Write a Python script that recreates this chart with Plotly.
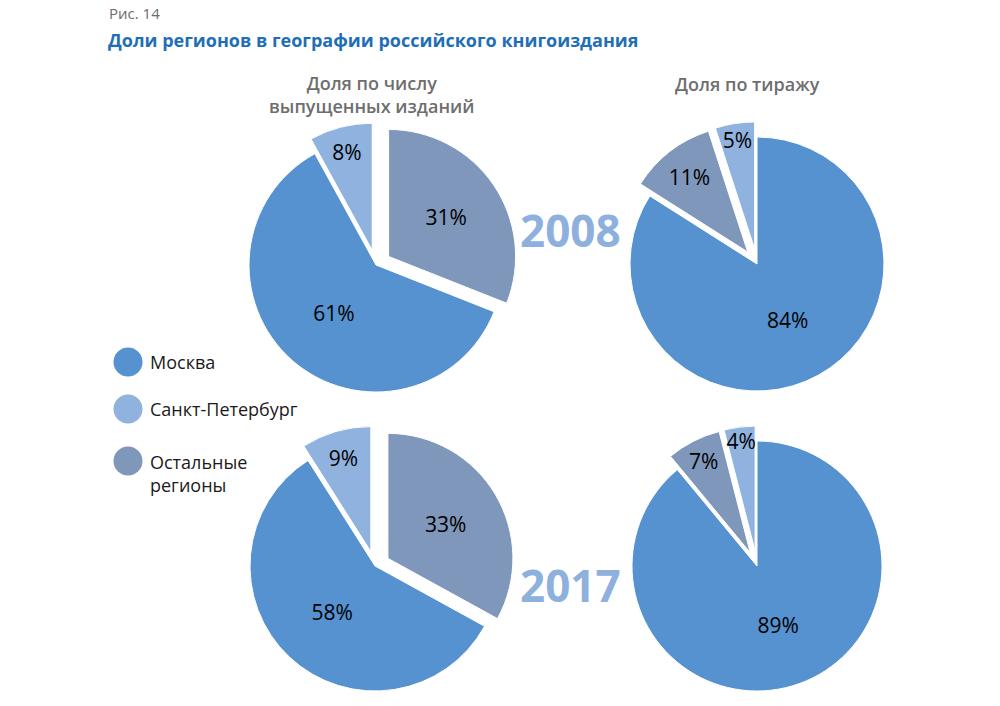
import plotly.graph_objects as go

# ---- data ----
regions = ["Москва", "Санкт-Петербург", "Остальные регионы"]
colors = {"Москва": "#5592cf", "Санкт-Петербург": "#8fb2df", "Остальные регионы": "#7e97bb"}

# order of slices clockwise from 12 o'clock, as drawn in the reference
titles_order = ["Остальные регионы", "Москва", "Санкт-Петербург"]
tirazh_order = ["Москва", "Остальные регионы", "Санкт-Петербург"]

titles_2008 = {"Москва": 61, "Санкт-Петербург": 8, "Остальные регионы": 31}
tirazh_2008 = {"Москва": 84, "Санкт-Петербург": 5, "Остальные регионы": 11}
titles_2017 = {"Москва": 58, "Санкт-Петербург": 9, "Остальные регионы": 33}
tirazh_2017 = {"Москва": 89, "Санкт-Петербург": 4, "Остальные регионы": 7}

years = ["2008", "2017"]
col_headers = ["Доля по числу<br>выпущенных изданий", "Доля по тиражу"]
fig_label = "Рис. 14"
fig_title = "Доли регионов в географии российского книгоиздания"

W, H = 1000, 706
FONT = "Open Sans"
PULL = 0.12

def dom_x(cx, half):
    return [(cx - half) / W, (cx + half) / W]

def dom_y(cy_top, cy_bottom):
    return [max(0.0, 1 - cy_bottom / H), min(1.0, 1 - cy_top / H)]

fig = go.Figure()

def add_pie(data, order, pulled, cx, cy, half_w, half_h):
    labels = order
    vals = [data[k] for k in order]
    fig.add_trace(go.Pie(
        labels=labels, values=vals,
        sort=False, direction="clockwise", rotation=0,
        pull=[PULL if k in pulled else 0 for k in order],
        marker=dict(colors=[colors[k] for k in order], line=dict(color="white", width=1)),
        texttemplate="%{value}%", textposition="inside",
        insidetextorientation="horizontal",
        insidetextfont=dict(family=FONT, size=21, color="#000000"),
        domain=dict(x=dom_x(cx, half_w), y=dom_y(cy - half_h, cy + half_h)),
        showlegend=False, hoverinfo="label+value",
    ))

# top row: r=127 -> half box = 127*(1+PULL)
ht = 127 * (1 + PULL)
add_pie(titles_2008, titles_order, {"Остальные регионы", "Санкт-Петербург"}, 376, 265, ht, ht)
add_pie(tirazh_2008, tirazh_order, {"Остальные регионы", "Санкт-Петербург"}, 757, 264, ht, ht)
# bottom row: limited by page bottom
hb = 706 - 566
add_pie(titles_2017, titles_order, {"Остальные регионы", "Санкт-Петербург"}, 375, 566, hb, hb)
add_pie(tirazh_2017, tirazh_order, {"Остальные регионы", "Санкт-Петербург"}, 757, 566, hb, hb)

ann = []
ann.append(dict(text=fig_label, x=107 / W, y=1 - 13 / H, xref="paper", yref="paper",
                xanchor="left", yanchor="middle", showarrow=False,
                font=dict(family=FONT, size=15, color="#6b6b6b")))
ann.append(dict(text="<b>" + fig_title + "</b>", x=106 / W, y=1 - 40 / H, xref="paper", yref="paper",
                xanchor="left", yanchor="middle", showarrow=False,
                font=dict(family=FONT, size=18, color="#1f6fb6")))
ann.append(dict(text=col_headers[0], x=371 / W, y=1 - 95 / H, xref="paper", yref="paper",
                xanchor="center", yanchor="middle", showarrow=False,
                font=dict(family=FONT, size=18, color="#6e6e6e", weight=600)))
ann.append(dict(text=col_headers[1], x=747 / W, y=1 - 84 / H, xref="paper", yref="paper",
                xanchor="center", yanchor="middle", showarrow=False,
                font=dict(family=FONT, size=18, color="#6e6e6e", weight=600)))
for yr, yc in zip(years, [230, 585]):
    ann.append(dict(text="<b>" + yr + "</b>", x=570 / W, y=1 - yc / H, xref="paper", yref="paper",
                    xanchor="center", yanchor="middle", showarrow=False,
                    font=dict(family=FONT, size=44, color="#8db0dd")))

# legend: circles + labels
shapes = []
leg_y = [362, 409, 461]
leg_text = ["Москва", "Санкт-Петербург", "Остальные<br>регионы"]
rr = 14.5
for k, yc, t in zip(regions, leg_y, leg_text):
    shapes.append(dict(type="circle", xref="paper", yref="paper",
                       x0=(128 - rr) / W, x1=(128 + rr) / W,
                       y0=1 - (yc + rr) / H, y1=1 - (yc - rr) / H,
                       fillcolor=colors[k], line=dict(width=0)))
    ann.append(dict(text=t, x=148 / W, y=1 - yc / H, xref="paper", yref="paper",
                    xanchor="left", yanchor="top" if "<br>" in t else "middle",
                    yshift=13 if "<br>" in t else 0, align="left", showarrow=False,
                    font=dict(family=FONT, size=18, color="#1a1a1a")))

fig.update_layout(
    width=W, height=H, margin=dict(l=0, r=0, t=0, b=0),
    paper_bgcolor="white", plot_bgcolor="white",
    annotations=ann, shapes=shapes,
    uniformtext=dict(minsize=21, mode="show"),
    font=dict(family=FONT),
)

fig.write_html("out.html")
